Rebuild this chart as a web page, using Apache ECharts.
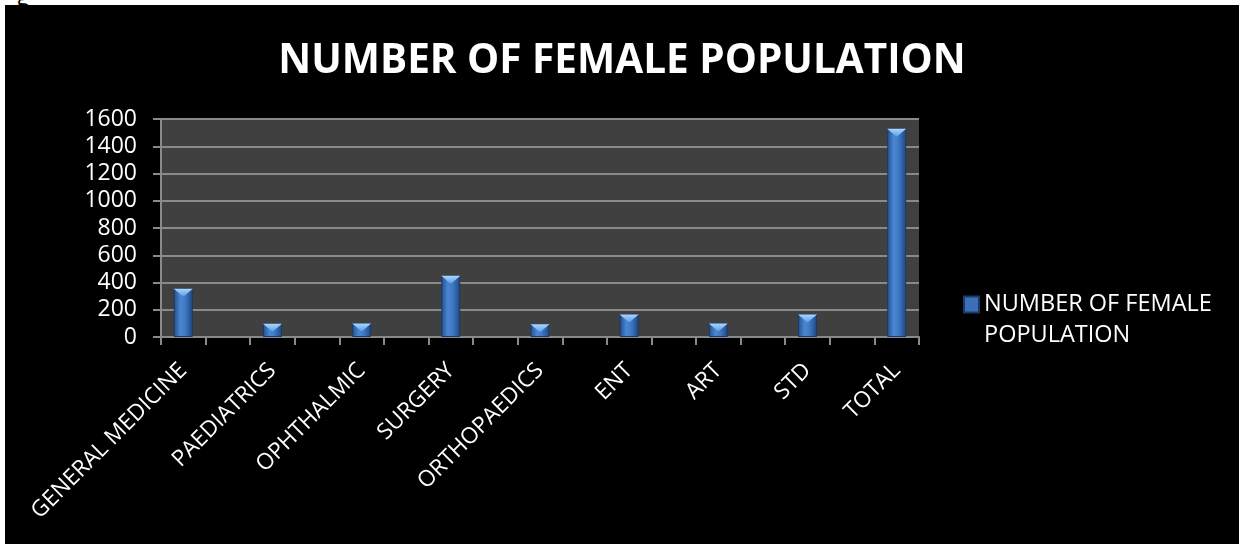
<!DOCTYPE html>
<html>
<head>
<meta charset="utf-8">
<script src="https://cdn.jsdelivr.net/npm/echarts@6/dist/echarts.min.js"></script>
<style>
  html, body { margin: 0; padding: 0; background: #ffffff; width: 1241px; height: 544px; overflow: hidden; }
  #cap { position: absolute; left: 16px; top: -21px; font: 24px "Open Sans", sans-serif; color: #000; }
  #chart { position: absolute; left: 5px; top: 5px; width: 1234px; height: 539px; background: #000000; }
</style>
</head>
<body>
<div id="cap">g</div>
<div id="chart"></div>
<script>
// Departments and female patient counts
const departments = ['GENERAL MEDICINE', 'PAEDIATRICS', 'OPHTHALMIC', 'SURGERY', 'ORTHOPAEDICS', 'ENT', 'ART', 'STD', 'TOTAL'];
const femaleCounts = [355, 98, 100, 450, 93, 166, 100, 166, 1528];
const yTicks = { min: 0, max: 1600, step: 200 };
const seriesName = 'NUMBER OF FEMALE POPULATION';

// The source sheet has a blank row between departments, so every department
// is followed by an empty category slot.
const categories = [];
const values = [];
departments.forEach((d, i) => {
  categories.push(d);
  values.push(femaleCounts[i]);
  if (i < departments.length - 1) {
    categories.push('');
    values.push(null);
  }
});

const FONT = '"Open Sans", "Noto Sans", sans-serif';

const barFill = {
  type: 'linear', x: 0, y: 0, x2: 1, y2: 0,
  colorStops: [
    { offset: 0, color: '#244f8c' },
    { offset: 0.35, color: '#4a86d2' },
    { offset: 0.6, color: '#3f79c4' },
    { offset: 1, color: '#1f467e' }
  ]
};

const chart = echarts.init(document.getElementById('chart'), null, { renderer: 'canvas' });
chart.setOption({
  backgroundColor: '#000000',
  animation: false,
  title: {
    text: 'NUMBER OF FEMALE POPULATION',
    left: 'center',
    top: 31,
    textStyle: { color: '#ffffff', fontFamily: FONT, fontWeight: 'bold', fontSize: 40.5 }
  },
  legend: {
    left: 958,
    top: 253,
    padding: 0,
    itemWidth: 15,
    itemHeight: 16,
    itemGap: 0,
    icon: 'rect',
    // leading blank line keeps the swatch level with the first text line
    formatter: () => '\nNUMBER OF FEMALE\nPOPULATION',
    textStyle: { color: '#ffffff', fontFamily: FONT, fontSize: 23.5, lineHeight: 31 },
    data: [{ name: seriesName, itemStyle: { color: '#3a70b8' } }]
  },
  grid: { left: 156, right: 320, top: 114, bottom: 207, containLabel: false, show: true, backgroundColor: '#404040', borderWidth: 0 },
  xAxis: {
    type: 'category',
    data: categories,
    axisLine: { lineStyle: { color: '#8a8a8a', width: 2 } },
    axisTick: { show: true, interval: 0, length: 8, lineStyle: { color: '#8a8a8a', width: 2 } },
    axisLabel: { interval: 0, rotate: 45, color: '#ffffff', fontFamily: FONT, fontSize: 22.5, margin: 30 },
    splitLine: { show: false }
  },
  yAxis: {
    type: 'value',
    min: yTicks.min,
    max: yTicks.max,
    interval: yTicks.step,
    axisLine: { show: true, lineStyle: { color: '#8a8a8a', width: 2 } },
    axisTick: { show: true, length: 8, lineStyle: { color: '#8a8a8a', width: 2 } },
    axisLabel: { color: '#ffffff', fontFamily: FONT, fontSize: 23, margin: 24, formatter: v => String(v) },
    splitLine: { show: true, lineStyle: { color: '#8a8a8a', width: 2 } }
  },
  series: [
    {
      name: seriesName,
      type: 'bar',
      data: values,
      barWidth: 19,
      itemStyle: { color: barFill, borderColor: '#1a3a68', borderWidth: 1 }
    },
    {
      // light bevel cap on top of each column
      name: seriesName,
      type: 'pictorialBar',
      data: values,
      symbol: 'path://M0,0 L20,0 L10,7 Z',
      symbolSize: [19, 8],
      symbolPosition: 'end',
      symbolOffset: [0, 0],
      z: 3,
      itemStyle: {
        color: {
          type: 'linear', x: 0, y: 0, x2: 0, y2: 1,
          colorStops: [{ offset: 0, color: '#a8d8ff' }, { offset: 1, color: '#5c9ce6' }]
        }
      },
      silent: true
    }
  ]
});
</script>
</body>
</html>
